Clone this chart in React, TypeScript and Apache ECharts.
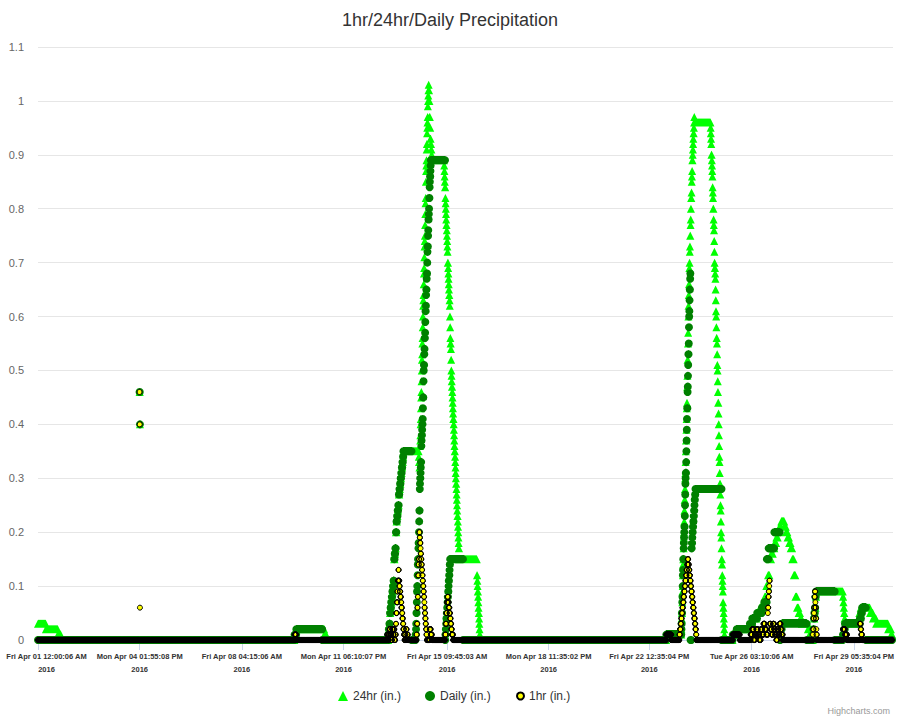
import { useEffect, useRef } from "react";
import * as echarts from "echarts";

// Tick labels of the x axis (category samples in the original chart)
const TICK_TIMES = ["01 00:00:06", "04 13:55:08", "08 04:15:06", "11 18:10:07", "15 09:45:03", "18 23:35:02", "22 12:35:04", "26 03:10:06", "29 17:35:04"];
const TICK_LABELS = ["Fri Apr 01 12:00:06 AM", "Mon Apr 04 01:55:08 PM", "Fri Apr 08 04:15:06 AM", "Mon Apr 11 06:10:07 PM", "Fri Apr 15 09:45:03 AM", "Mon Apr 18 11:35:02 PM", "Fri Apr 22 12:35:04 PM", "Tue Apr 26 03:10:06 AM", "Fri Apr 29 05:35:04 PM"];
const TICK_YEAR = "2016";
const X_MIN = "01 00:00:06";
const X_MAX = "31 02:36";
const DATA_END = "31 01:50";
const SAMPLE_MINUTES = 10;

// Each entry: [time (April day hh:mm), values taken in turn until the next entry]
type Ev = [string, number[]];

const RAIN_24HR: Ev[] = [
  ["01 00:00", [0.03]],
  ["01 06:40", [0.02]],
  ["01 16:50", [0.01]],
  ["01 19:20", [0]],
  ["04 13:50", [0.46, 0.46, 0.4]],
  ["04 14:20", [0]],
  ["10 00:50", [0.01]],
  ["10 02:20", [0.02]],
  ["11 02:00", [0.01]],
  ["11 03:40", [0]],
  ["13 07:57", [0.01, 0.02, 0.03, 0.05, 0.06, 0.07, 0.08, 0.09, 0.1, 0.11, 0.15, 0.16, 0.17, 0.2, 0.22, 0.23, 0.24, 0.25, 0.27, 0.28, 0.29, 0.3, 0.31, 0.32, 0.33, 0.34]],
  ["13 20:50", [0.35]],
  ["14 09:42", [0.34, 0.33, 0.32]],
  ["14 10:34", [0.33, 0.36, 0.37, 0.38, 0.4, 0.41, 0.43, 0.45, 0.46, 0.48, 0.5, 0.52, 0.53, 0.55, 0.56, 0.58, 0.6, 0.62, 0.63, 0.64, 0.66, 0.68, 0.69, 0.71, 0.73, 0.74, 0.75, 0.77, 0.79, 0.81, 0.82, 0.84, 0.85, 0.87, 0.88, 0.89, 0.91, 0.92, 0.94, 0.95, 0.96, 0.97, 0.99, 1.0, 1.01, 1.02, 1.03]],
  ["14 18:18", [1.02, 1.0, 0.97, 0.95, 0.93, 0.92, 0.91, 0.9]],
  ["14 20:52", [0.89]],
  ["15 07:12", [0.88, 0.87, 0.86, 0.85, 0.84, 0.82, 0.81, 0.8, 0.79, 0.78, 0.77, 0.76, 0.75, 0.74, 0.73, 0.72, 0.7, 0.69, 0.68, 0.67, 0.66, 0.65, 0.64, 0.63, 0.62, 0.6, 0.58, 0.56, 0.55, 0.54, 0.52, 0.5, 0.49, 0.48, 0.47, 0.46, 0.45, 0.44, 0.43, 0.42, 0.41, 0.4, 0.39, 0.38, 0.37, 0.36, 0.35, 0.34, 0.33, 0.32, 0.31, 0.3, 0.29, 0.28, 0.27, 0.26, 0.25, 0.24, 0.23, 0.22, 0.21, 0.2, 0.19, 0.18, 0.17]],
  ["15 19:51", [0.15]],
  ["16 11:00", [0.12, 0.11, 0.1, 0.09, 0.08, 0.07, 0.06, 0.05, 0.04, 0.03, 0.02, 0.01]],
  ["16 13:31", [0]],
  ["23 03:00", [0.01]],
  ["23 15:46", [0.02, 0.04, 0.05, 0.07, 0.09, 0.1, 0.12, 0.14, 0.15, 0.17, 0.19, 0.2, 0.22, 0.24, 0.26, 0.28, 0.3, 0.31, 0.33, 0.35, 0.37, 0.39, 0.41, 0.43, 0.44, 0.47, 0.49, 0.52, 0.55, 0.57, 0.6, 0.62, 0.64, 0.66, 0.69]],
  ["23 22:33", [0.7, 0.72, 0.73, 0.75, 0.77, 0.78, 0.8, 0.82, 0.83, 0.85, 0.86, 0.87, 0.89, 0.9, 0.91, 0.92, 0.93, 0.94, 0.95, 0.96, 0.97]],
  ["24 02:48", [0.96]],
  ["24 16:24", [0.95, 0.94, 0.93, 0.92, 0.9, 0.89, 0.88, 0.87, 0.86, 0.84, 0.83, 0.82, 0.8, 0.78, 0.77, 0.76, 0.74, 0.72, 0.7, 0.69, 0.68, 0.67, 0.65, 0.63, 0.61, 0.6, 0.58, 0.56, 0.55, 0.53, 0.51, 0.5, 0.48, 0.46, 0.44, 0.42, 0.4, 0.38, 0.36, 0.34, 0.33, 0.31, 0.29, 0.27, 0.25, 0.24, 0.22, 0.2, 0.19, 0.17, 0.15, 0.14, 0.12, 0.11, 0.1, 0.09, 0.07, 0.06, 0.05, 0.04, 0.03, 0.02, 0.01]],
  ["25 04:17", [0]],
  ["25 11:05", [0.01]],
  ["25 14:29", [0.02]],
  ["26 01:31", [0.03, 0.03, 0.04, 0.04, 0.05, 0.05, 0.06, 0.06, 0.07, 0.08, 0.1, 0.12, 0.15, 0.16, 0.17, 0.18, 0.19, 0.2, 0.21, 0.22]],
  ["27 05:25", [0.22, 0.21, 0.2, 0.19, 0.18, 0.17, 0.15, 0.12, 0.08, 0.06, 0.05, 0.04]],
  ["27 21:30", [0.03]],
  ["28 02:38", [0.02, 0.01]],
  ["28 05:10", [0]],
  ["28 06:51", [0.01, 0.02, 0.04, 0.05, 0.06, 0.08, 0.09]],
  ["28 10:16", [0.09]],
  ["29 08:17", [0.08, 0.07, 0.06, 0.05, 0.04]],
  ["29 10:00", [0.03]],
  ["29 20:58", [0.04, 0.05, 0.06]],
  ["30 00:21", [0.06]],
  ["30 07:07", [0.05, 0.04]],
  ["30 12:12", [0.03]],
  ["30 22:22", [0.02]],
  ["31 00:57", [0.01]],
];

const RAIN_DAILY: Ev[] = [
  ["01 00:00", [0]],
  ["04 13:50", [0.46, 0.46, 0.4]],
  ["04 14:20", [0]],
  ["10 00:50", [0.01]],
  ["10 02:20", [0.02]],
  ["11 00:20", [0]],
  ["13 07:57", [0.01, 0.02, 0.03, 0.05, 0.06, 0.07, 0.08, 0.09, 0.1, 0.11, 0.15, 0.16, 0.17, 0.2, 0.22, 0.23, 0.24, 0.25, 0.27, 0.28, 0.29, 0.3, 0.31, 0.32, 0.33, 0.34]],
  ["13 20:50", [0.35]],
  ["14 03:42", [0]],
  ["14 07:08", [0.01, 0.02, 0.03, 0.05, 0.07, 0.09, 0.1, 0.12, 0.14, 0.15, 0.17, 0.18, 0.2, 0.22, 0.24, 0.28, 0.29, 0.3, 0.31, 0.32, 0.33, 0.36, 0.37, 0.38, 0.39, 0.4, 0.41, 0.43, 0.45, 0.48, 0.5, 0.51, 0.53, 0.54, 0.56, 0.57, 0.59, 0.61, 0.62, 0.64, 0.65, 0.67, 0.68, 0.7, 0.72, 0.73, 0.75, 0.76, 0.78, 0.79, 0.8, 0.82, 0.84, 0.85, 0.86, 0.87, 0.88]],
  ["14 20:00", [0.89]],
  ["15 08:01", [0, 0.01, 0.02, 0.03, 0.04, 0.05, 0.06, 0.07, 0.08, 0.09, 0.1, 0.11, 0.12, 0.13, 0.14]],
  ["15 12:17", [0.15]],
  ["15 23:14", [0]],
  ["23 03:00", [0.01]],
  ["23 15:46", [0.02, 0.03, 0.05, 0.07, 0.08, 0.1, 0.12, 0.13, 0.15, 0.17, 0.18, 0.19, 0.2, 0.21, 0.23, 0.25, 0.27, 0.29, 0.3, 0.31, 0.33, 0.35, 0.37, 0.39, 0.41, 0.43, 0.46, 0.47, 0.49, 0.51, 0.53, 0.55, 0.58, 0.6, 0.61, 0.63, 0.65, 0.67, 0.68]],
  ["23 23:24", [0]],
  ["24 00:15", [0.17, 0.18, 0.19, 0.2, 0.21, 0.22, 0.23, 0.24, 0.25, 0.26, 0.27]],
  ["24 03:36", [0.28]],
  ["25 01:44", [0]],
  ["25 11:05", [0.01]],
  ["25 14:29", [0.02]],
  ["26 01:31", [0.03, 0.04, 0.04, 0.05, 0.05, 0.06, 0.07]],
  ["26 15:53", [0.15, 0.17, 0.17, 0.17, 0.2, 0.2, 0.2]],
  ["27 02:53", [0, 0.01, 0.02]],
  ["27 04:35", [0.03]],
  ["28 01:47", [0]],
  ["28 06:51", [0.01, 0.02, 0.04, 0.05, 0.06, 0.08]],
  ["28 09:25", [0.09]],
  ["29 01:30", [0]],
  ["29 08:17", [0.01, 0.02]],
  ["29 10:00", [0.03]],
  ["29 22:40", [0.04, 0.05, 0.06]],
  ["30 01:12", [0.06]],
  ["30 03:45", [0]],
];

const RAIN_1HR: Ev[] = [
  ["01 00:00", [0]],
  ["04 13:50", [0.46, 0.4, 0.06]],
  ["04 14:20", [0]],
  ["10 00:50", [0.01]],
  ["10 02:20", [0]],
  ["13 07:05", [0.01, 0, 0.01, 0.02, 0.01, 0, 0.02, 0.01, 0.02, 0]],
  ["13 13:57", [0.01, 0.03, 0.05, 0.07, 0.09, 0.11, 0.13, 0.11, 0.1, 0.09, 0.08, 0.07, 0.06, 0.05, 0.04, 0.03, 0.02, 0.01]],
  ["13 21:41", [0, 0.01, 0, 0.02, 0, 0.01, 0]],
  ["14 01:06", [0]],
  ["14 08:00", [0.01, 0.03, 0.06, 0.08, 0.12, 0.14, 0.15, 0.2, 0.19, 0.18, 0.17, 0.16, 0.15, 0.14, 0.13, 0.12, 0.11, 0.1, 0.09, 0.08, 0.07, 0.06, 0.05, 0.04, 0.03, 0.02, 0.01]],
  ["14 16:34", [0]],
  ["14 19:09", [0.02, 0.01, 0]],
  ["14 21:42", [0]],
  ["15 08:01", [0.01, 0.03, 0.05, 0.07, 0.08, 0.07, 0.06, 0.05, 0.04, 0.03, 0.02, 0.01, 0.01]],
  ["15 14:48", [0]],
  ["23 03:00", [0.01]],
  ["23 07:15", [0]],
  ["23 14:04", [0.01, 0.02, 0.03, 0.04, 0.05, 0.06, 0.07, 0.08, 0.09, 0.1, 0.11, 0.12, 0.13, 0.14, 0.15, 0.14, 0.13, 0.12, 0.11, 0.1, 0.09, 0.08, 0.07, 0.06, 0.05, 0.04, 0.03, 0.02, 0.01]],
  ["24 04:30", [0]],
  ["25 11:05", [0.01]],
  ["25 17:02", [0]],
  ["26 02:20", [0.01, 0.02, 0, 0.01, 0.02, 0.01, 0, 0.02, 0.01, 0.03, 0.02, 0.01]],
  ["26 16:43", [0.05, 0.06, 0.08, 0.09, 0.1, 0.11]],
  ["26 18:25", [0.03, 0.02, 0.01, 0.03, 0.02, 0.01, 0, 0.02, 0.01, 0.03, 0.02, 0.01]],
  ["27 05:25", [0]],
  ["28 06:51", [0.01, 0.02, 0.04, 0.05, 0.06, 0.08, 0.09, 0.07, 0.06, 0.04, 0.02, 0.01]],
  ["28 10:16", [0]],
  ["29 08:17", [0.02, 0.01]],
  ["29 11:42", [0]],
  ["29 22:40", [0.03, 0.02, 0.01]],
  ["30 00:21", [0]],
];

function toMs(s: string): number {
  const [d, hm] = s.split(" ");
  const parts = hm.split(":").map(Number);
  return new Date(2016, 3, Number(d), parts[0], parts[1], parts[2] || 0).getTime();
}

// Expand the change list onto the station's regular sampling grid
function expand(events: Ev[]): number[][] {
  const out: number[][] = [];
  const times = events.map((e) => toMs(e[0]));
  const end = toMs(DATA_END);
  const step = SAMPLE_MINUTES * 60000;
  let i = 0;
  for (let t = times[0]; t <= end; t += step) {
    while (i + 1 < events.length && times[i + 1] <= t) i++;
    const vals = events[i][1];
    const next = i + 1 < events.length ? times[i + 1] : end + step;
    const k = Math.min(vals.length - 1, Math.floor(((t - times[i]) / (next - times[i])) * vals.length));
    out.push([t, vals[k]]);
  }
  return out;
}

const FONT = "'Liberation Sans', Arial, sans-serif";
const LEGEND_TEXT = { fontFamily: FONT, fontSize: 12, color: "#333333" };

export default function App() {
  const ref = useRef<HTMLDivElement>(null);
  useEffect(() => {
    if (!ref.current) return;
    const chart = echarts.init(ref.current, null, { renderer: "svg" });
    const tickMs = TICK_TIMES.map(toMs);
    const labelFor = (v: number) => {
      let best = 0;
      for (let i = 1; i < tickMs.length; i++) if (Math.abs(tickMs[i] - v) < Math.abs(tickMs[best] - v)) best = i;
      return best;
    };
    chart.setOption({
      animation: false,
      backgroundColor: "#ffffff",
      title: {
        text: "1hr/24hr/Daily Precipitation",
        left: "center",
        top: 6,
        textStyle: { fontFamily: FONT, fontSize: 18, fontWeight: "normal", color: "#333333" },
      },
      grid: { left: 38, right: 7, top: 47, bottom: 80, containLabel: false, outerBoundsMode: "none" },
      legend: [
        { top: 685, left: 333, itemWidth: 10, itemHeight: 10, textStyle: LEGEND_TEXT, data: [{ name: "24hr (in.)", icon: "triangle" }] },
        { top: 685, left: 420, itemWidth: 10, itemHeight: 10, textStyle: LEGEND_TEXT, data: [{ name: "Daily (in.)", icon: "circle" }] },
        { top: 685, left: 511, itemWidth: 7, itemHeight: 7, textStyle: LEGEND_TEXT, data: [{ name: "1hr (in.)", icon: "circle" }] },
      ],
      xAxis: {
        type: "value",
        min: toMs(X_MIN),
        max: toMs(X_MAX),
        splitLine: { show: false },
        axisLine: { show: true, lineStyle: { color: "#ccd6eb" } },
        axisTick: { show: true, customValues: tickMs, length: 10, lineStyle: { color: "#ccd6eb" } },
        axisLabel: {
          customValues: tickMs,
          margin: 10,
          formatter: (v: number) => {
            const i = labelFor(v);
            const s = i === 0 ? "f" : "a";
            return `{${s}|${TICK_LABELS[i]}}\n{${s}|${TICK_YEAR}}`;
          },
          rich: {
            a: { fontFamily: FONT, fontSize: 7.5, fontWeight: "bold", color: "#333333", lineHeight: 13 },
            f: { fontFamily: FONT, fontSize: 7.5, fontWeight: "bold", color: "#333333", lineHeight: 13, padding: [0, 0, 0, 17] },
          },
        },
      },
      yAxis: {
        type: "value",
        min: 0,
        max: 1.1,
        interval: 0.1,
        axisLine: { show: false },
        axisTick: { show: false },
        axisLabel: { fontFamily: FONT, fontSize: 11, color: "#666666", margin: 14 },
        splitLine: { lineStyle: { color: "#e6e6e6", width: 1 } },
      },
      series: [
        {
          name: "24hr (in.)",
          type: "scatter",
          symbol: "triangle",
          symbolSize: 8,
          large: true,
          largeThreshold: 500,
          itemStyle: { color: "#00ff00", opacity: 1 },
          data: expand(RAIN_24HR),
        },
        {
          name: "Daily (in.)",
          type: "scatter",
          symbol: "circle",
          symbolSize: 8,
          large: true,
          largeThreshold: 500,
          itemStyle: { color: "#008000", opacity: 1 },
          data: expand(RAIN_DAILY),
        },
        {
          name: "1hr (in.)",
          type: "scatter",
          symbol: "circle",
          symbolSize: 5,
          large: true,
          largeThreshold: 500,
          itemStyle: { color: "#ffff00", borderColor: "#000000", borderWidth: 1, opacity: 1 },
          data: expand(RAIN_1HR),
        },
      ],
      graphic: [
        {
          type: "text",
          right: 10,
          top: 706,
          style: { text: "Highcharts.com", fontFamily: FONT, fontSize: 9, fill: "#999999" },
        },
      ],
    });
    return () => chart.dispose();
  }, []);
  return <div ref={ref} style={{ position: "absolute", left: 0, top: 0, width: 900, height: 720 }} />;
}
